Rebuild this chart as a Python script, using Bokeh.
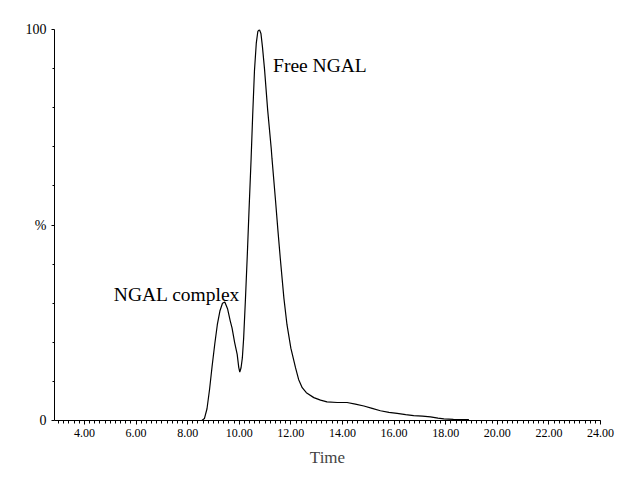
from bokeh.plotting import figure
from bokeh.models import SingleIntervalTicker, FixedTicker, Range1d, PrintfTickFormatter
from bokeh.core.properties import value
from bokeh.embed import file_html
from bokeh.resources import INLINE

# Chromatogram trace
time = [2.9, 8.55, 8.65, 8.75, 8.85, 8.95, 9.05, 9.15, 9.25, 9.35, 9.44, 9.55, 9.65, 9.72,
        9.82, 9.92, 9.98, 10.02, 10.07, 10.12, 10.17, 10.24, 10.31, 10.38, 10.46, 10.52,
        10.59, 10.66, 10.72, 10.78, 10.84, 10.9, 10.98, 11.1, 11.24, 11.27, 11.4, 11.5,
        11.59, 11.73, 11.85, 12.0, 12.18, 12.3, 12.44, 12.6, 12.89, 13.15, 13.4, 13.8,
        14.18, 14.5, 14.83, 15.15, 15.47, 15.8, 16.12, 16.45, 16.76, 17.1, 17.41, 17.7,
        17.93, 18.3, 18.9]
intensity = [0, 0, 0.5, 3, 8, 14, 19.5, 24.5, 28, 30, 30.3, 28.5, 25.5, 23.7,
             20, 16.9, 13.6, 12.4, 13.5, 16, 21, 31, 42, 54, 67, 78,
             89.5, 96.5, 99.5, 100, 99, 95.5, 89.8, 79.5, 69.5, 66.9, 56.7, 48.5,
             41.5, 31.3, 24.5, 18.5, 13.5, 10.5, 8.4, 7.1, 5.85, 5.2, 4.75, 4.6,
             4.6, 4.2, 3.7, 3.1, 2.5, 2.1, 1.8, 1.5, 1.27, 1.1, 0.93, 0.6,
             0.4, 0.3, 0.2]

y_ticks = [0, 50, 100]
y_tick_labels = {0: "0", 50: "%", 100: "100"}
y_minor = [10, 20, 30, 40, 60, 70, 80, 90]

labels = ["NGAL complex", "Free NGAL"]
label_x = [5.14, 11.31]
label_y = [32.3, 90.7]

FONT = "Liberation Serif"

p = figure(width=624, height=469, output_backend="svg", toolbar_location=None,
           x_range=Range1d(2.84, 24.0), y_range=Range1d(0, 100),
           min_border_left=54, min_border_right=24, min_border_top=29, min_border_bottom=46)
p.outline_line_color = None
p.grid.visible = False
p.background_fill_color = "white"

p.line(time, intensity, line_color="black", line_width=1.2)

p.text(x=label_x, y=label_y, text=labels, text_font=value(FONT), text_font_size="19.5px",
       text_color="black", text_align="left", text_baseline="alphabetic")

xa = p.xaxis[0]
xa.ticker = SingleIntervalTicker(interval=2, num_minor_ticks=10)
xa.formatter = PrintfTickFormatter(format="%.2f")
xa.major_tick_in = 0
xa.major_tick_out = 4
xa.minor_tick_in = 0
xa.minor_tick_out = 3
xa.major_label_text_font = FONT
xa.major_label_text_font_size = "12px"
xa.major_label_text_color = "black"
xa.major_label_standoff = 4
xa.axis_label = "Time"
xa.axis_label_text_font = FONT
xa.axis_label_text_font_size = "17px"
xa.axis_label_text_font_style = "normal"
xa.axis_label_standoff = 8
xa.axis_line_color = "black"

ya = p.yaxis[0]
ya.ticker = FixedTicker(ticks=y_ticks, minor_ticks=y_minor)
ya.major_label_overrides = y_tick_labels
ya.major_tick_in = 0
ya.major_tick_out = 3
ya.minor_tick_in = 0
ya.minor_tick_out = 2
ya.major_label_text_font = FONT
ya.major_label_text_font_size = "14px"
ya.major_label_text_color = "black"
ya.major_label_standoff = 5
ya.axis_line_color = "black"

open("out.html", "w").write(file_html(p, INLINE))
